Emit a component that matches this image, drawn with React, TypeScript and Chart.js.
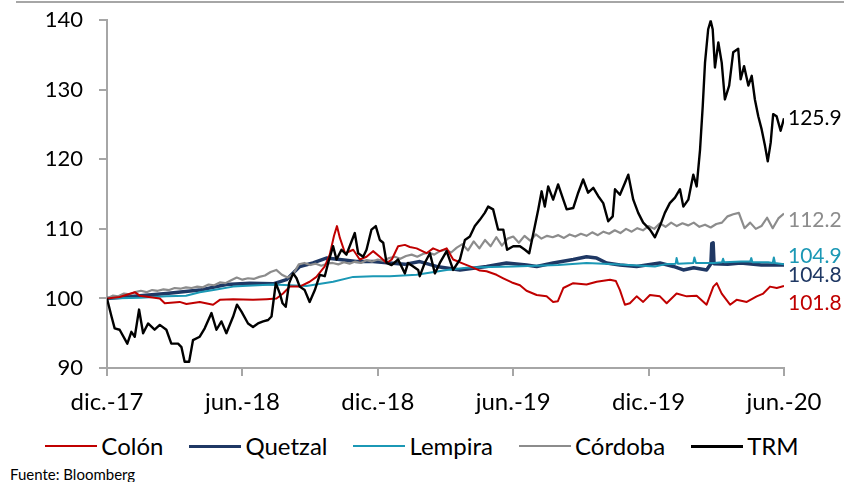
import React, { useEffect, useRef } from "react";
import { Chart, registerables } from "chart.js";

Chart.register(...registerables);

// ---------- DATA ----------
// x = months elapsed since dic.-17
const xTickLabels = ["dic.-17", "jun.-18", "dic.-18", "jun.-19", "dic.-19", "jun.-20"];
const yMin = 90;
const yMax = 140;
const yStep = 10;

const colonMonths = [0,0.56,1.23,1.45,2.34,2.56,3.22,3.52,4.11,4.70,5.00,5.59,6.47,7.07,7.51,7.80,8.10,8.54,8.98,9.28,9.65,9.87,10.06,10.19,10.32,10.55,10.91,11.20,11.50,11.79,12.09,12.39,12.62,12.90,13.20,13.42,13.72,14.16,14.45,14.75,15.05,15.34,15.78,16.17,16.52,16.82,17.26,17.56,17.94,18.30,18.59,19.04,19.48,19.77,19.98,20.22,20.66,21.25,21.70,22.29,22.55,22.73,22.95,23.17,23.47,23.76,24.06,24.50,24.80,25.24,25.69,26.13,26.57,26.87,27.02,27.24,27.61,27.90,28.35,28.79,29.08,29.38,29.68,30.00];
const colonValues = [100,100.2,100.9,100.4,100.0,99.3,99.5,99.2,99.5,99.1,99.8,99.9,99.8,99.9,100.0,100.7,101.7,101.7,102.4,103.1,104.6,106.3,109.0,110.4,108.7,106.5,107.0,105.6,106.0,106.8,106.0,105.1,105.6,107.5,107.7,107.4,107.2,106.5,107.2,106.8,107.2,105.6,105.0,104.5,104.0,103.9,103.4,102.9,102.3,101.9,101.1,100.5,100.3,99.5,99.6,101.5,102.2,102.0,102.4,102.7,102.5,101.2,99.1,99.3,100.3,99.5,100.5,100.3,99.3,100.7,100.3,100.4,99.1,101.7,102.2,100.7,99.1,99.8,99.5,100.3,100.7,101.7,101.5,101.8];

const quetzalMonths = [0,1.2,2.63,4.11,5.29,6.33,7.36,7.95,8.54,9.13,9.72,10.31,11.05,11.79,12.53,13.2,13.86,14.6,15.64,16.82,17.7,18.59,19.04,19.77,20.66,21.25,21.7,22.14,22.73,23.47,24.5,25.1,25.54,26.0,26.57,26.76,26.8,26.86,26.9,27.5,28.08,29.0,30];
const quetzalValues = [100,100.3,100.7,101.2,102.0,102.2,102.1,102.7,104.6,105.1,105.8,105.6,105.3,105.3,105.1,104.9,105.3,104.6,104.1,104.6,105.1,104.8,104.6,105.1,105.6,106.0,105.8,105.1,104.8,104.6,105.1,104.6,104.1,104.4,104.1,105.0,107.9,108.0,105.0,104.9,105.1,104.8,104.8];

const lempiraMonths = [0,1.5,2.63,3.5,4.11,4.85,5.59,6.0,7.36,8.84,10.02,10.91,11.79,12.53,13.72,15.05,15.93,16.52,18.0,20.0,21.25,22.5,24.28,24.72,25.2,25.24,25.3,25.98,26.03,26.1,26.9,27.25,27.3,27.35,28.1,28.5,28.55,28.6,29.3,29.5,29.55,29.6,30];
const lempiraValues = [100,100.1,100.3,100.4,100.9,101.3,101.7,101.8,102.0,101.8,102.4,103.1,103.2,103.2,103.4,104.1,104.4,104.5,104.6,104.8,105.1,104.9,104.6,104.9,105.0,105.8,105.0,105.1,105.9,105.1,105.1,105.2,105.7,105.2,105.3,105.3,105.8,105.2,105.2,105.1,105.9,105.1,104.9];

// weekly observations (every quarter month)
const cordobaStepMonths = 0.25;
const cordobaValues = [
  100.0,100.4,100.3,100.7,100.6,100.9,101.1,100.9,101.2,101.1,101.3,101.2,
  101.5,101.4,101.6,101.5,101.7,101.6,102.0,101.9,102.3,102.2,102.6,103.0,
  102.7,102.9,102.8,103.1,103.3,103.8,104.1,103.4,103.0,103.5,104.9,105.1,
  104.8,105.0,104.7,105.0,105.1,104.9,105.2,105.0,105.3,105.1,105.5,105.3,
  105.6,105.4,105.8,106.0,105.7,106.1,106.3,106.0,106.4,106.6,106.3,106.8,
  107.0,106.6,107.3,107.8,106.9,108.2,107.2,108.4,107.5,108.8,107.6,108.6,
  108.9,108.0,109.0,108.3,109.2,108.6,109.0,108.8,109.1,108.7,109.2,108.9,
  109.3,109.0,109.5,109.1,109.6,109.3,109.8,109.4,110.0,109.6,110.1,109.8,
  110.4,110.0,110.8,110.3,110.9,110.4,110.8,110.5,110.9,110.3,110.6,110.2,
  110.7,110.9,111.8,112.1,112.3,110.1,110.9,110.0,110.4,111.6,110.1,111.5,
  112.2
];

const trmMonths = [0,0.20,0.34,0.56,0.90,1.08,1.23,1.42,1.60,1.82,2.11,2.34,2.63,2.85,3.15,3.30,3.44,3.64,3.81,4.11,4.33,4.63,4.85,5.07,5.29,5.59,5.76,5.96,6.25,6.47,6.69,6.92,7.14,7.29,7.48,7.66,7.78,7.92,8.07,8.25,8.40,8.54,8.76,8.98,9.21,9.43,9.65,9.80,10.02,10.17,10.39,10.61,10.98,11.13,11.35,11.50,11.72,11.91,12.09,12.24,12.39,12.61,12.90,13.20,13.34,13.57,13.79,13.86,14.08,14.31,14.53,14.75,15.05,15.34,15.64,15.86,16.08,16.30,16.52,16.74,16.89,17.11,17.33,17.56,17.73,18.00,18.30,18.52,18.71,18.96,19.11,19.26,19.40,19.55,19.77,19.99,20.22,20.37,20.66,20.88,21.10,21.32,21.55,21.77,21.99,22.21,22.41,22.51,22.73,22.95,23.10,23.32,23.54,23.76,24.06,24.28,24.50,24.72,24.94,25.17,25.39,25.54,25.76,25.98,26.13,26.28,26.40,26.50,26.64,26.75,26.84,26.94,27.09,27.24,27.38,27.57,27.75,27.97,28.08,28.23,28.42,28.57,28.71,28.86,29.01,29.16,29.28,29.41,29.52,29.67,29.85,30.00];
const trmValues = [100,97.4,95.7,95.5,93.5,95.2,94.5,98.4,95.0,96.4,95.5,96.2,95.5,93.5,93.5,93.0,90.9,90.9,94.0,94.5,95.7,97.9,95.5,96.7,95.0,97.4,99.1,98.1,96.4,95.9,96.4,96.7,96.9,97.4,102.2,100.7,99.3,98.8,102.2,103.6,102.9,101.7,101.2,99.5,101.2,103.4,103.2,105.1,107.5,105.6,107.0,106.3,109.4,106.5,106.0,107.0,109.9,110.4,108.4,108.0,105.1,104.8,105.6,103.6,105.1,104.6,104.1,103.2,105.1,106.5,103.6,105.1,106.8,104.1,105.6,108.4,108.9,110.4,111.3,112.3,113.2,112.8,109.9,109.9,107.0,107.5,107.5,107.0,106.5,110.4,112.8,115.4,113.2,116.1,114.2,116.4,114.2,112.8,113.0,115.2,117.1,115.2,115.9,114.7,113.7,111.1,111.8,115.7,114.9,116.6,117.8,114.2,112.3,110.9,109.9,108.8,110.4,112.3,113.7,114.5,115.7,113.2,114.2,117.8,116.1,121.4,127.7,133.9,138.7,139.9,138.7,133.2,136.8,133.9,128.6,130.6,135.4,135.9,131.5,133.4,130.6,132.0,128.6,126.2,124.3,121.9,119.7,122.4,126.5,126.2,124.1,125.9];

const seriesNames = ["Colón", "Quetzal", "Lempira", "Córdoba", "TRM"];

// ---------- STYLE ----------
const FONT = "Lato, 'Open Sans', 'DejaVu Sans', sans-serif";
const TEXT = "#000000";
const AXIS = "#a6a6a6";
const CANVAS_SHIFT = 9; // canvas drawn slightly above page top so plot top sits at y≈21
const seriesStyle = [
  { color: "#C00000", width: 2, order: 1, labelDy: 17 },
  { color: "#1F3864", width: 3.5, order: 4, labelDy: 10 },
  { color: "#1B98B5", width: 2, order: 2, labelDy: -8 },
  { color: "#8C8C8C", width: 2.2, order: 3, labelDy: 7 },
  { color: "#000000", width: 2.4, order: 0, labelDy: 0 },
];

function pairs(xs: number[], ys: number[]) {
  const n = Math.min(xs.length, ys.length);
  const out: { x: number; y: number }[] = [];
  for (let i = 0; i < n; i++) out.push({ x: xs[i], y: ys[i] });
  return out;
}

const endLabels = {
  id: "endLabels",
  afterDatasetsDraw(chart: any) {
    const ctx = chart.ctx;
    chart.data.datasets.forEach((ds: any, i: number) => {
      const meta = chart.getDatasetMeta(i);
      const el = meta.data[meta.data.length - 1];
      const last = ds.data[ds.data.length - 1];
      if (!el || !last) return;
      ctx.save();
      ctx.font = `21px ${FONT}`;
      ctx.fillStyle = seriesStyle[i].color;
      ctx.textAlign = "left";
      ctx.textBaseline = "middle";
      ctx.fillText(last.y.toFixed(1), el.x + 4, el.y + seriesStyle[i].labelDy);
      ctx.restore();
    });
  },
};

export default function App() {
  const ref = useRef<HTMLCanvasElement | null>(null);

  useEffect(() => {
    if (!ref.current) return;
    const cordobaMonths = cordobaValues.map((_, i) => i * cordobaStepMonths);
    const seriesData = [
      pairs(colonMonths, colonValues),
      pairs(quetzalMonths, quetzalValues),
      pairs(lempiraMonths, lempiraValues),
      pairs(cordobaMonths, cordobaValues),
      pairs(trmMonths, trmValues),
    ];
    const chart = new Chart(ref.current, {
      type: "line",
      data: {
        datasets: seriesNames.map((name, i) => ({
          label: name,
          data: seriesData[i],
          borderColor: seriesStyle[i].color,
          backgroundColor: seriesStyle[i].color,
          borderWidth: seriesStyle[i].width,
          order: seriesStyle[i].order,
          pointRadius: 0,
          tension: 0,
          borderJoinStyle: "round",
          fill: false,
        })),
      },
      options: {
        responsive: false,
        animation: false,
        events: [],
        layout: { padding: { left: 0, right: 60, top: 12, bottom: 0 } },
        plugins: { legend: { display: false }, tooltip: { enabled: false } },
        scales: {
          x: {
            type: "linear",
            min: 0,
            max: 30,
            afterFit: (s: any) => {
              s.height = 52;
            },
            afterBuildTicks: (s: any) => {
              s.ticks = xTickLabels.map((_, i) => ({ value: i * 6 }));
            },
            ticks: {
              autoSkip: false,
              maxRotation: 0,
              padding: 12,
              color: TEXT,
              font: { family: FONT, size: 24 },
              callback: (v: any) => xTickLabels[Math.round(Number(v) / 6)] ?? "",
            },
            grid: { drawOnChartArea: false, drawTicks: true, tickLength: 8, color: AXIS, lineWidth: 2 },
            border: { color: AXIS, width: 2 },
          },
          y: {
            min: yMin,
            max: yMax,
            afterFit: (s: any) => {
              s.width = 107;
            },
            ticks: {
              stepSize: yStep,
              padding: 16,
              color: TEXT,
              font: { family: FONT, size: 22 },
            },
            grid: { drawOnChartArea: false, drawTicks: true, tickLength: 8, color: AXIS, lineWidth: 2 },
            border: { color: AXIS, width: 2 },
          },
        },
      },
      plugins: [endLabels],
    } as any);
    if ((document as any).fonts && (document as any).fonts.ready) {
      (document as any).fonts.ready.then(() => {
        try { chart.update(); } catch (e) {}
      });
    }
    return () => chart.destroy();
  }, []);

  return (
    <div style={{ position: "absolute", left: 0, top: 0, width: 844, height: 482, background: "#fff", overflow: "hidden" }}>
      <canvas ref={ref} width={844} height={420 + CANVAS_SHIFT} style={{ position: "absolute", left: 0, top: -CANVAS_SHIFT, display: "block" }} />
      <div style={{ position: "absolute", left: 16, right: 0, top: 1, height: 2, background: AXIS }} />
      <div
        style={{
          position: "absolute",
          left: 0,
          top: 432,
          width: 844,
          display: "flex",
          justifyContent: "center",
          alignItems: "center",
          gap: 26,
          fontFamily: FONT,
          fontSize: 24,
          lineHeight: 1.2,
          color: TEXT,
          whiteSpace: "nowrap",
        }}
      >
        {seriesNames.map((name, i) => (
          <div key={name} style={{ display: "flex", alignItems: "center" }}>
            <span style={{ display: "inline-block", width: 52, height: Math.max(2, seriesStyle[i].width), background: seriesStyle[i].color, marginRight: 4 }} />
            <span>{name}</span>
          </div>
        ))}
      </div>
      <div style={{ position: "absolute", left: 10, top: 467, fontFamily: FONT, fontSize: 15, lineHeight: "15px", color: TEXT, whiteSpace: "nowrap" }}>
        Fuente: Bloomberg
      </div>
    </div>
  );
}
